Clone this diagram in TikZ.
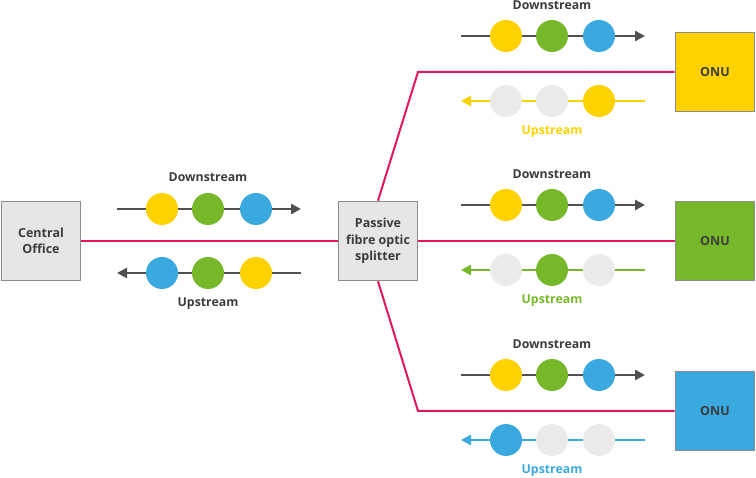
\documentclass[tikz,border=0pt]{standalone}
\usepackage{fontspec}
\setmainfont{Open Sans}
\usetikzlibrary{arrows.meta,positioning,calc}

\definecolor{fibre}{HTML}{E5175B}
\definecolor{ponyellow}{HTML}{FED200}
\definecolor{pongreen}{HTML}{77B82A}
\definecolor{ponblue}{HTML}{39A9E0}
\definecolor{pongray}{HTML}{EBEBEB}
\definecolor{boxgray}{HTML}{E6E6E6}
\definecolor{boxedge}{HTML}{8C8C8C}
\definecolor{textgray}{HTML}{3C3C3C}
\definecolor{arrowgray}{HTML}{505050}

\tikzset{
  unit/.style={draw=boxedge,line width=1.6pt,minimum size=79pt,inner sep=0pt,
    align=center,text=textgray,font=\bfseries\fontsize{12.5}{16.5}\selectfont},
  packet/.style={circle,minimum size=32pt,inner sep=0pt,fill=#1},
  fibreline/.style={fibre,line width=2pt},
  flow/.style={line width=2.5pt,-{Triangle[length=10pt,width=10pt]}},
  flowlabel/.style={font=\bfseries\fontsize{12.3}{14}\selectfont}
}

\begin{document}
\begin{tikzpicture}[x=1pt,y=-1pt]
        \useasboundingbox (0,0) rectangle (756,478);

        % Central office and splitter
        \node[unit,fill=boxgray] (co) at (41,241) {Central\\Office};
        \node[unit,fill=boxgray] (split) at (378,241) {Passive\\fibre optic\\splitter};

        % Feeder fibre
        \draw[fibreline] (co.east) -- (split.west);

        % Traffic on the feeder fibre
        \coordinate (fdS) at (117,209);
        \coordinate (fdE) at (301,209);
        \coordinate (fuS) at (301,273);
        \coordinate (fuE) at (117,273);
        \draw[flow,arrowgray] (fdS) -- (fdE);
        \draw[flow,arrowgray] (fuS) -- (fuE);
        \foreach \n/\dx/\cd/\cu in {1/45/ponyellow/ponblue,2/91/pongreen/pongreen,3/139/ponblue/ponyellow} {
            \node[packet=\cd] (fd\n) at ($(fdS)+(\dx,0)$) {};
            \node[packet=\cu] (fu\n) at ($(fuE)+(\dx,0)$) {};
        }
        \node[flowlabel,text=textgray] (fdlab) at ($(fd2)+(0,-32)$) {Downstream};
        \node[flowlabel,text=textgray] (fulab) at ($(fu2)+(0,31)$) {Upstream};

        % ONU branches
        \foreach \i/\yy/\col/\pa/\pb/\pc in {1/72/ponyellow/pongray/pongray/ponyellow,
                                             2/241/pongreen/pongray/pongreen/pongray,
                                             3/411/ponblue/ponblue/pongray/pongray} {
            \node[unit,fill=\col] (onu\i) at (715,\yy) {ONU};

            % downstream (all packets)
            \coordinate (dS\i) at (461,\yy-36);
            \coordinate (dE\i) at (645,\yy-36);
            \draw[flow,arrowgray] (dS\i) -- (dE\i);
            \node[packet=ponyellow] (d\i a) at ($(dS\i)+(45,0)$) {};
            \node[packet=pongreen] (d\i b) at ($(dS\i)+(91,0)$) {};
            \node[packet=ponblue] (d\i c) at ($(dS\i)+(138,0)$) {};
            \node[flowlabel,text=textgray] (dlab\i) at ($(d\i b)+(0,-31)$) {Downstream};

            % upstream (own packet only)
            \coordinate (uS\i) at (645,\yy+29);
            \coordinate (uE\i) at (461,\yy+29);
            \draw[flow,\col] (uS\i) -- (uE\i);
            \node[packet=\pa] (u\i a) at ($(uE\i)+(45,0)$) {};
            \node[packet=\pb] (u\i b) at ($(uE\i)+(91,0)$) {};
            \node[packet=\pc] (u\i c) at ($(uE\i)+(138,0)$) {};
            \node[flowlabel,text=\col] (ulab\i) at ($(u\i b)+(0,31)$) {Upstream};
        }

        % Drop fibres
        \coordinate (bendA) at (418,72);
        \coordinate (bendB) at (418,411);
        \draw[fibreline] (split.north) -- (bendA) -- (onu1.west);
        \draw[fibreline] (split.east) -- (onu2.west);
        \draw[fibreline] (split.south) -- (bendB) -- (onu3.west);

\end{tikzpicture}
\end{document}
